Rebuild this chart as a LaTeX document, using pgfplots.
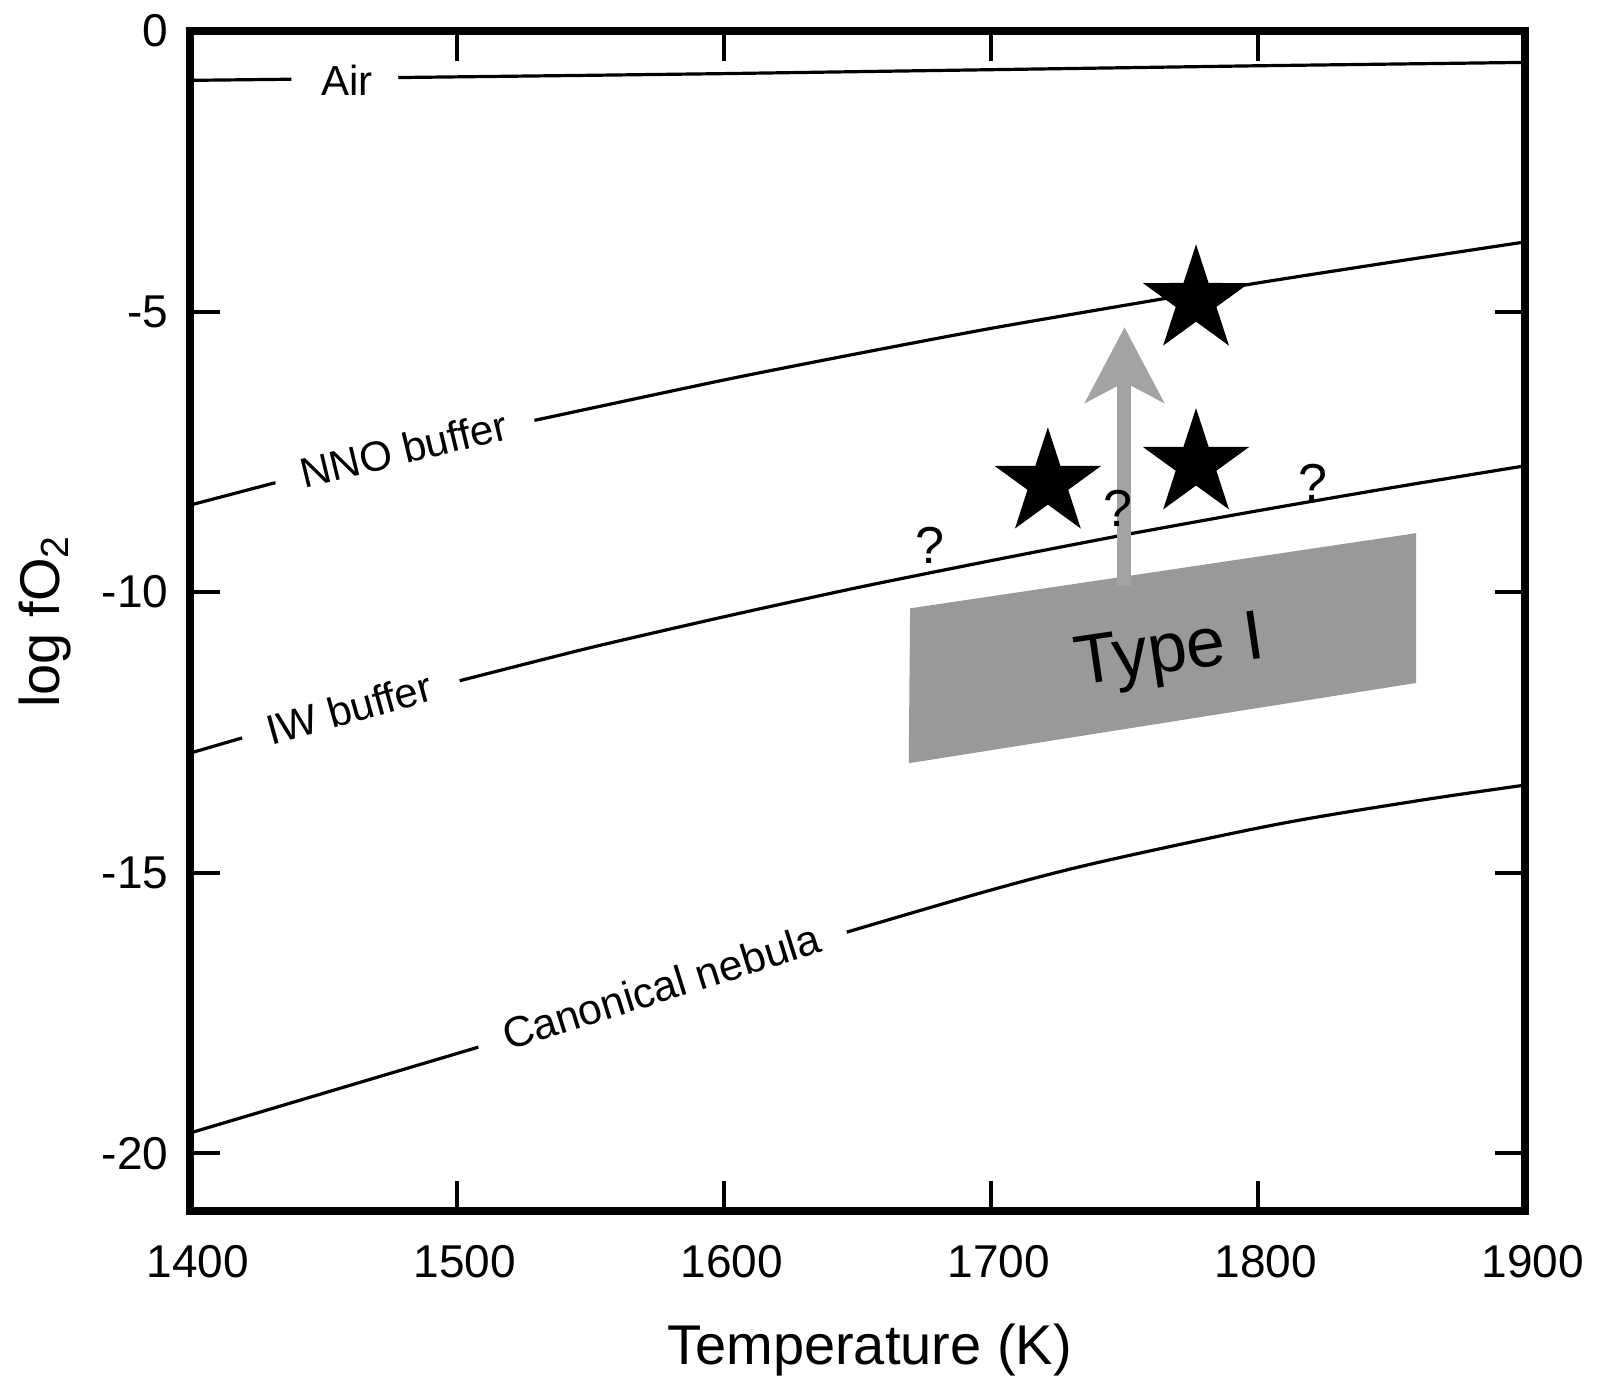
\documentclass[border=0pt]{standalone}
\usepackage{fontspec}
\setmainfont{Liberation Sans}
\usepackage{pgfplots}
\pgfplotsset{compat=1.18}
\usetikzlibrary{arrows.meta}
\definecolor{boxgray}{HTML}{999999}
\definecolor{arrgray}{HTML}{A3A3A3}
\pgfdeclareplotmark{fstar}{%
  \pgfmathsetlengthmacro\ro{\pgfplotmarksize}%
  \pgfmathsetlengthmacro\ri{0.382*\pgfplotmarksize}%
  \pgfpathmoveto{\pgfpointpolar{90}{\ro}}%
  \pgfpathlineto{\pgfpointpolar{126}{\ri}}%
  \pgfpathlineto{\pgfpointpolar{162}{\ro}}%
  \pgfpathlineto{\pgfpointpolar{198}{\ri}}%
  \pgfpathlineto{\pgfpointpolar{234}{\ro}}%
  \pgfpathlineto{\pgfpointpolar{270}{\ri}}%
  \pgfpathlineto{\pgfpointpolar{306}{\ro}}%
  \pgfpathlineto{\pgfpointpolar{342}{\ri}}%
  \pgfpathlineto{\pgfpointpolar{18}{\ro}}%
  \pgfpathlineto{\pgfpointpolar{54}{\ri}}%
  \pgfpathclose
  \pgfusepathqfill
}
\begin{document}
\begin{tikzpicture}
\begin{axis}[
  scale only axis,
  width=333.75pt, height=295pt,
  xmin=1400, xmax=1900, ymin=-21.03, ymax=0,
  xtick={1400,1500,1600,1700,1800,1900},
  xticklabels={1400,1500,1600,1700,1800,1900},
  ytick={-20,-15,-10,-5,0},
  yticklabels={-20,-15,-10,-5,0},
  tick align=inside,
  major tick length=7.5pt,
  every tick/.style={black, line width=1pt},
  axis line style={line width=1.9pt},
  tick label style={font=\fontsize{11.5}{13}\selectfont, inner sep=0pt},
  xticklabel style={yshift=-8.5pt, xshift=2pt},
  yticklabel style={xshift=-5.2pt},
  xlabel={Temperature (K)},
  ylabel={log fO\textsubscript{2}},
  xlabel style={font=\fontsize{14}{16}\selectfont, inner sep=0pt, at={(axis description cs:0.509,-0.1305)}, anchor=base},
  ylabel style={font=\fontsize{14}{16}\selectfont, inner sep=0pt, at={(axis description cs:-0.0974,0.5)}, anchor=base},
  clip=false,
]
% Air
\addplot[black, line width=0.8pt] coordinates {(1400,-0.88) (1438,-0.86)};
\addplot[black, line width=0.8pt] coordinates {(1478,-0.83) (1550,-0.79) (1600,-0.76) (1700,-0.69) (1800,-0.62) (1900,-0.56)};
% NNO buffer
\addplot[black, line width=0.8pt] coordinates {(1400,-8.45) (1432,-8.05)};
\addplot[black, line width=0.8pt, smooth, tension=0.4] coordinates {(1529,-6.94) (1600,-6.22) (1650,-5.75) (1700,-5.30) (1750,-4.89) (1800,-4.49) (1850,-4.12) (1900,-3.76)};
% IW buffer
\addplot[black, line width=0.8pt] coordinates {(1400,-12.87) (1419.5,-12.60)};
\addplot[black, line width=0.8pt, smooth, tension=0.4] coordinates {(1501,-11.58) (1550,-10.99) (1600,-10.44) (1650,-9.92) (1700,-9.44) (1750,-8.98) (1800,-8.55) (1850,-8.14) (1900,-7.75)};
% Canonical nebula
\addplot[black, line width=0.8pt] coordinates {(1400,-19.64) (1508,-18.11)};
\addplot[black, line width=0.8pt, smooth, tension=0.5] coordinates {(1646,-16.06) (1700,-15.31) (1740,-14.82) (1807,-14.14) (1861,-13.71) (1900,-13.44)};
% Type I field
\addplot[fill=boxgray, draw=none] coordinates {(1669.7,-10.29) (1859.2,-8.95) (1859.2,-11.62) (1669.2,-13.05) (1669.7,-10.29)};
% arrow
\addplot[arrgray, line width=3.5pt, -{Stealth[length=18.75pt, width=19.5pt, inset=5pt]}] coordinates {(1750,-9.9) (1750,-5.28)};
% stars
\addplot[only marks, black, mark=fstar, mark size=14pt] coordinates {(1721.3,-8.06) (1776.8,-7.72) (1776.8,-4.80)};
% labels
\node[font=\fontsize{10.5}{12}\selectfont] at (axis cs:1458.8,-0.87) {Air};
\node[font=\fontsize{10.5}{12}\selectfont, rotate=13.5] at (axis cs:1480,-7.45) {NNO buffer};
\node[font=\fontsize{10.5}{12}\selectfont, rotate=15.5, inner sep=1pt] at (axis cs:1459.6,-12.07) {IW buffer};
\node[font=\fontsize{10.7}{12}\selectfont, rotate=17.4] at (axis cs:1576.5,-17.03) {Canonical nebula};
\node[font=\fontsize{17.5}{20}\selectfont, rotate=8.4] at (axis cs:1767,-11.12) {Type I};
\node[font=\fontsize{13}{15}\selectfont] at (axis cs:1677.2,-9.16) {?};
\node[font=\fontsize{13}{15}\selectfont] at (axis cs:1747.6,-8.50) {?};
\node[font=\fontsize{13}{15}\selectfont] at (axis cs:1820.6,-8.04) {?};
\end{axis}
\path (current axis.south west) ++(-47.5pt,-41.75pt) rectangle ++(399.25pt,344.5pt);
\end{tikzpicture}
\end{document}
